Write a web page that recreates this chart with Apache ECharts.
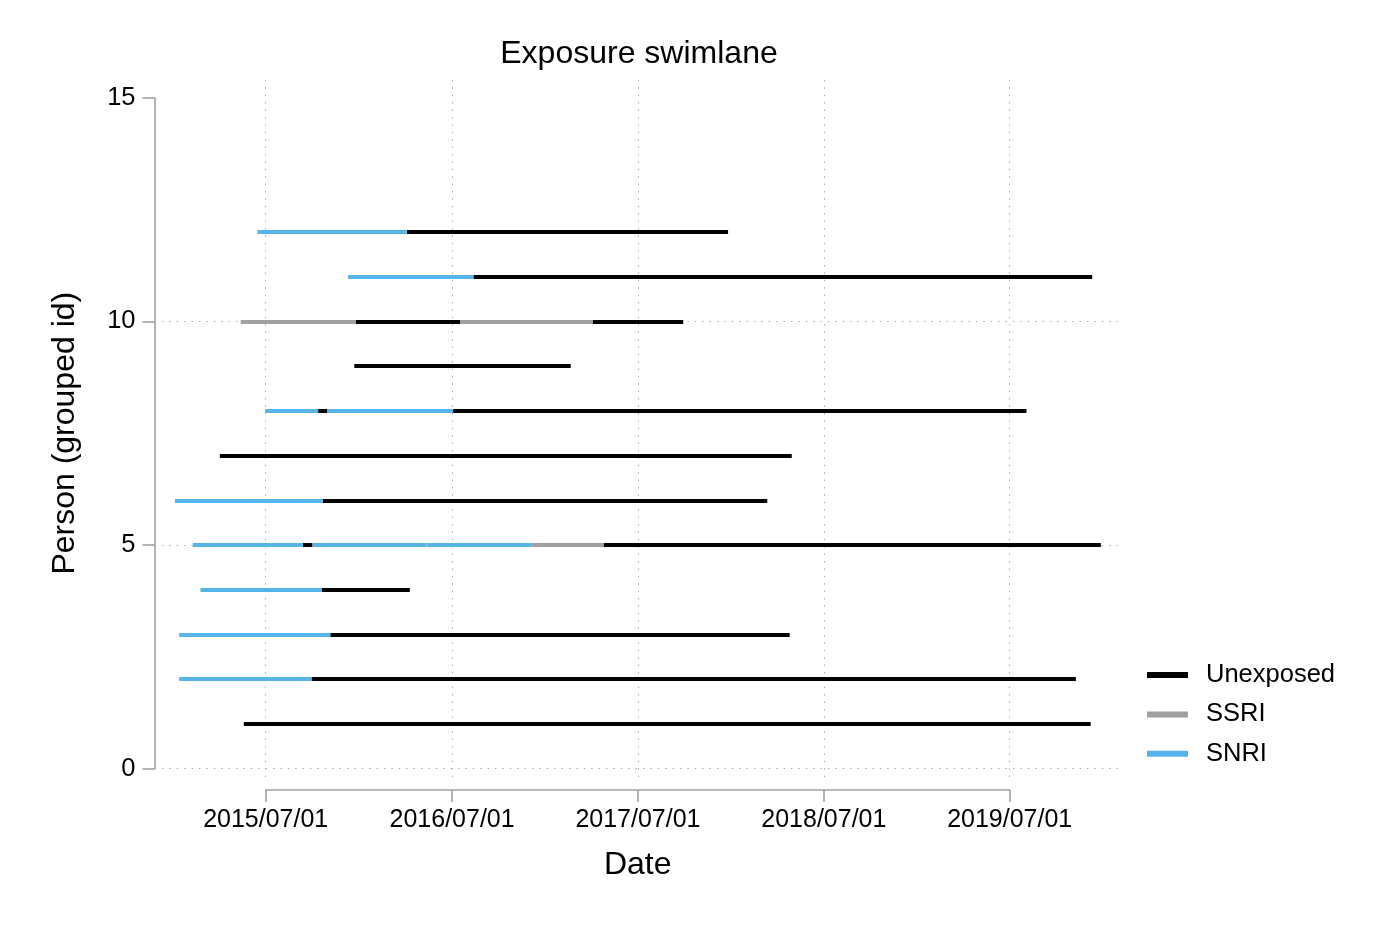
<!DOCTYPE html>
<html>
<head>
<meta charset="UTF-8">
<title>Exposure swimlane</title>
<script src="https://cdn.jsdelivr.net/npm/echarts@6/dist/echarts.min.js"></script>
<style>
html, body { margin: 0; padding: 0; background: #fff; }
#main { width: 1400px; height: 933px; }
</style>
</head>
<body>
<div id="main"></div>
<script>
// exposure categories, in legend order
var exposureTypes = ['Unexposed', 'SSRI', 'SNRI'];
var exposureColors = ['#000000', '#a0a0a0', '#56b4e9'];

// one entry per segment of the swimlane
var segPerson = [1,
  2, 2,
  3, 3,
  4, 4,
  5, 5, 5, 5, 5, 5, 5,
  6, 6,
  7,
  8, 8, 8, 8,
  9,
  10, 10, 10, 10,
  11, 11,
  12, 12];
var segType = ['Unexposed',
  'SNRI', 'Unexposed',
  'SNRI', 'Unexposed',
  'SNRI', 'Unexposed',
  'SNRI', 'Unexposed', 'SNRI', 'SSRI', 'SNRI', 'SSRI', 'Unexposed',
  'SNRI', 'Unexposed',
  'Unexposed',
  'SNRI', 'Unexposed', 'SNRI', 'Unexposed',
  'Unexposed',
  'SSRI', 'Unexposed', 'SSRI', 'Unexposed',
  'SNRI', 'Unexposed',
  'SNRI', 'Unexposed'];
var segStart = ['2015-05-19',
  '2015-01-12', '2015-09-29',
  '2015-01-12', '2015-11-05',
  '2015-02-23', '2015-10-19',
  '2015-02-08', '2015-09-12', '2015-10-01', '2016-05-12', '2016-05-15', '2016-12-04', '2017-04-25',
  '2015-01-04', '2015-10-21',
  '2015-04-02',
  '2015-06-30', '2015-10-12', '2015-10-30', '2016-07-03',
  '2015-12-22',
  '2015-05-13', '2015-12-25', '2016-07-17', '2017-04-03',
  '2015-12-10', '2016-08-12',
  '2015-06-15', '2016-04-03'];
var segEnd = ['2019-12-07',
  '2015-09-29', '2019-11-08',
  '2015-11-05', '2018-04-25',
  '2015-10-19', '2016-04-09',
  '2015-09-12', '2015-10-01', '2016-05-12', '2016-05-15', '2016-12-04', '2017-04-25', '2019-12-27',
  '2015-10-21', '2018-03-12',
  '2018-04-29',
  '2015-10-12', '2015-10-30', '2016-07-03', '2019-08-03',
  '2017-02-19',
  '2015-12-25', '2016-07-17', '2017-04-03', '2017-09-28',
  '2016-08-12', '2019-12-10',
  '2016-04-03', '2017-12-25'];

// axis ticks
var xTickDates = ['2015-07-01', '2016-07-01', '2017-07-01', '2018-07-01', '2019-07-01'];
var yTicks = [0, 5, 10, 15];
var yGridLines = [0, 5, 10];

var font = '"Liberation Sans", Arial, Helvetica, sans-serif';
var axisGray = '#a0a0a0';
var gridDots = { color: '#a8a8a8', width: 1, type: [1.4, 6] };

function toTime(s) {
  var p = s.split('-');
  return new Date(+p[0], +p[1] - 1, +p[2]).getTime();
}
function pad(n) {
  return n < 10 ? '0' + n : '' + n;
}
function fmtDate(v) {
  var d = new Date(v);
  return d.getFullYear() + '/' + pad(d.getMonth() + 1) + '/' + pad(d.getDate());
}

var xTicks = xTickDates.map(toTime);
var DAY = 86400000;
// plot region reaches a bit past the labelled ticks on both sides
var plotMinX = toTime('2015-07-01') - 203.6 * DAY;
var plotMaxX = toTime('2019-07-01') + 212.7 * DAY;

var series = exposureTypes.map(function (name, k) {
  var data = [];
  for (var i = 0; i < segPerson.length; i++) {
    if (segType[i] !== name) continue;
    data.push({
      coords: [[toTime(segStart[i]), segPerson[i]], [toTime(segEnd[i]), segPerson[i]]]
    });
  }
  return {
    name: name,
    type: 'lines',
    coordinateSystem: 'cartesian2d',
    xAxisIndex: 0,
    yAxisIndex: 0,
    silent: true,
    itemStyle: { color: exposureColors[k] },
    lineStyle: { color: exposureColors[k], width: 4, opacity: 1, curveness: 0 },
    data: data
  };
});

var chart = echarts.init(document.getElementById('main'));
chart.setOption({
  animation: false,
  backgroundColor: '#fff',
  textStyle: { fontFamily: font },
  title: {
    text: 'Exposure swimlane',
    left: 639,
    top: 38,
    textAlign: 'center',
    padding: 0,
    textStyle: { fontSize: 32, fontWeight: 'normal', color: '#000', fontFamily: font }
  },
  legend: {
    orient: 'vertical',
    left: 1147,
    top: 662,
    padding: 0,
    itemWidth: 39,
    itemHeight: 4,
    itemGap: 13.4,
    icon: 'rect',
    selectedMode: false,
    textStyle: { fontSize: 25.5, color: '#000', fontFamily: font, lineHeight: 25, padding: [0, 0, 0, 14] },
    data: exposureTypes
  },
  grid: [
    { left: 162, right: 282, top: 80, bottom: 150 },
    { left: 265.7, right: 390.3, top: 97.7, bottom: 164.3 }
  ],
  xAxis: [{
    type: 'value',
    gridIndex: 0,
    min: plotMinX,
    max: plotMaxX,
    axisLine: { show: false },
    axisLabel: { show: false },
    axisTick: { show: false, customValues: xTicks },
    splitLine: { show: true, lineStyle: gridDots }
  }, {
    type: 'value',
    gridIndex: 1,
    min: xTicks[0],
    max: xTicks[xTicks.length - 1],
    offset: 21.3,
    name: 'Date',
    nameLocation: 'middle',
    nameGap: 59,
    nameTextStyle: { fontSize: 32, color: '#000', fontFamily: font },
    axisLine: { show: true, onZero: false, lineStyle: { color: axisGray, width: 1.6 } },
    axisTick: { show: true, length: 12, customValues: xTicks, lineStyle: { color: axisGray, width: 1.6 } },
    axisLabel: {
      customValues: xTicks,
      margin: 17.5,
      fontSize: 25,
      color: '#000',
      fontFamily: font,
      formatter: fmtDate,
      hideOverlap: false
    },
    splitLine: { show: false }
  }],
  yAxis: [{
    type: 'value',
    gridIndex: 0,
    min: -0.32,
    max: 15.396,
    axisLine: { show: false },
    axisLabel: { show: false },
    axisTick: { show: false, customValues: yGridLines },
    splitLine: { show: true, lineStyle: gridDots }
  }, {
    type: 'value',
    gridIndex: 1,
    min: 0,
    max: 15,
    interval: 5,
    offset: 111.2,
    name: 'Person (grouped id)',
    nameLocation: 'middle',
    nameGap: 73.5,
    nameRotate: 90,
    nameTextStyle: { fontSize: 32, color: '#000', fontFamily: font },
    axisLine: { show: true, onZero: false, lineStyle: { color: axisGray, width: 1.6 } },
    axisTick: { show: true, length: 12, customValues: yTicks, lineStyle: { color: axisGray, width: 1.6 } },
    axisLabel: { customValues: yTicks, margin: 19, fontSize: 25.5, color: '#000', fontFamily: font },
    splitLine: { show: false }
  }],
  series: series
});
</script>
</body>
</html>
